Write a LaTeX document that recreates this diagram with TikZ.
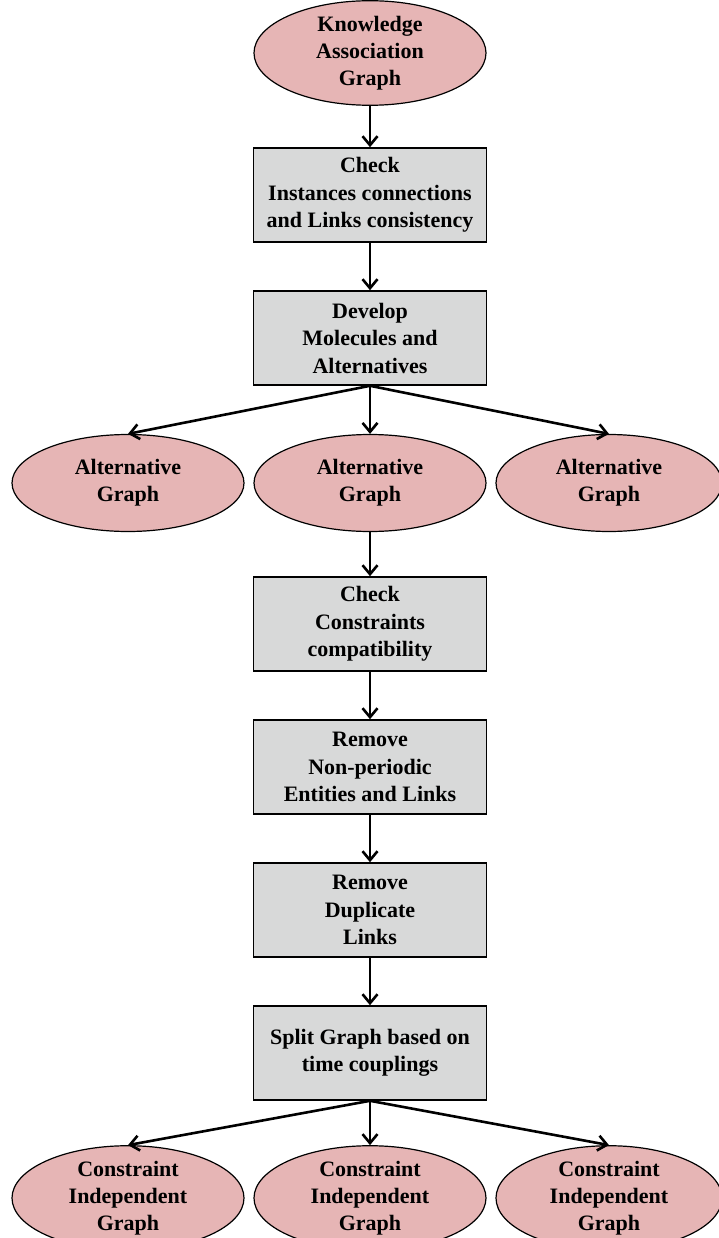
\documentclass[tikz,border=0pt]{standalone}
\usepackage{fontspec}
\setmainfont{Liberation Serif}
\usetikzlibrary{shapes.geometric}
\usetikzlibrary{arrows.meta}

\definecolor{graphpink}{RGB}{230,181,181}
\definecolor{stepgray}{RGB}{216,217,217}

\begin{document}
\begin{tikzpicture}[x=1pt,y=-1pt,
    graphnode/.style={ellipse,draw,line width=1.2pt,fill=graphpink,inner sep=0pt,
      minimum width=232pt,minimum height=97pt,align=center,
      font=\fontsize{22}{27}\selectfont\bfseries},
    stepbox/.style={rectangle,draw,line width=1.6pt,fill=stepgray,inner sep=0pt,
      minimum width=233pt,minimum height=94pt,align=center,
      font=\fontsize{22}{27.5}\selectfont\bfseries},
    flow/.style={line width=2.6pt,-{Straight Barb[length=9pt,width=15pt,line width=2.6pt]}}]
  \useasboundingbox (0,0) rectangle (718,1238);

  \node[graphnode,minimum height=100pt] (kag) at (370,53) {Knowledge\\Association\\Graph};
  \node[stepbox] (check) at (370,195) {Check\\Instances connections\\and Links consistency};
  \node[stepbox] (develop) at (370,338) {Develop\\Molecules and\\Alternatives};

  %% alternatives row
  \node[graphnode] (altL) at (128,483) {Alternative\\Graph};
  \node[graphnode] (altM) at (370,483) {Alternative\\Graph};
  \node[graphnode,minimum width=226pt] (altR) at (609,483) {Alternative\\Graph};

  \node[stepbox] (constr) at (370,624) {Check\\Constraints\\compatibility};
  \node[stepbox] (nonper) at (370,767) {Remove\\Non-periodic\\Entities and Links};
  \node[stepbox] (dupl) at (370,910) {Remove\\Duplicate\\Links};
  \node[stepbox] (split) at (370,1053) {Split Graph based on\\time couplings};

  %% independent graphs, cut off at the bottom
  \node[graphnode] (indL) at (128,1198) {Constraint\\Independent\\Graph};
  \node[graphnode] (indM) at (370,1198) {Constraint\\Independent\\Graph};
  \node[graphnode,minimum width=226pt] (indR) at (609,1198) {Constraint\\Independent\\Graph};

  \draw[flow] (kag) -- (check);
  \draw[flow] (check) -- (develop);
  \draw[flow] (develop.south) -- (altL.north);
  \draw[flow] (develop.south) -- (altM.north);
  \draw[flow] (develop.south) -- (altR.north);
  \draw[flow] (altM) -- (constr);
  \draw[flow] (constr) -- (nonper);
  \draw[flow] (nonper) -- (dupl);
  \draw[flow] (dupl) -- (split);
  \draw[flow] (split.south) -- (indL.north);
  \draw[flow] (split.south) -- (indM.north);
  \draw[flow] (split.south) -- (indR.north);
\end{tikzpicture}
\end{document}
